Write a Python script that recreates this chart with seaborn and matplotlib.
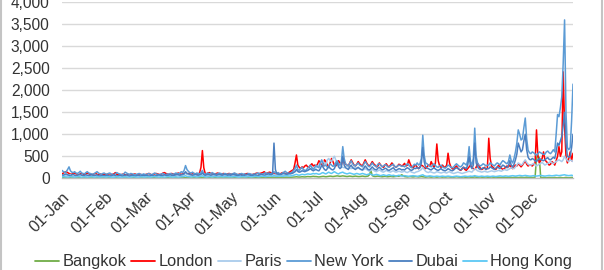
import matplotlib
matplotlib.use("Agg")
import matplotlib.pyplot as plt
import matplotlib.dates as mdates
from matplotlib.ticker import FuncFormatter, MultipleLocator
from matplotlib.lines import Line2D
import pandas as pd
import seaborn as sns

# ---------------- data (daily values) ----------------
cities = ["Bangkok", "London", "Paris", "New York", "Dubai", "Hong Kong"]
start_date = "2015-01-01"

bangkok = [
    10,12,8,10,15,12,10,8,10,12,10,8,10,12,15,10,8,10,12,10,8,10,12,10,8,10,12,10,8,10,12,
    10,8,10,12,10,8,10,12,10,8,10,12,15,10,8,10,12,10,8,10,12,10,8,10,12,10,8,10,
    12,10,8,10,12,15,12,10,8,10,12,10,8,10,12,15,12,10,8,10,12,10,8,10,12,15,12,10,12,15,12,
    12,10,8,10,12,10,8,10,12,15,20,12,10,8,10,12,10,8,10,12,15,12,10,8,10,12,10,8,10,12,
    10,12,15,12,10,8,10,12,10,8,10,12,15,12,10,12,15,18,15,12,15,18,20,18,15,18,20,22,20,18,20,
    25,20,18,20,22,20,18,20,22,25,22,20,22,25,28,30,35,30,28,30,35,32,30,35,40,38,35,40,45,40,
    40,35,30,35,40,45,40,35,40,45,50,45,40,45,50,55,50,45,50,55,50,45,40,45,50,45,40,45,50,45,40,
    40,45,50,45,40,45,50,80,180,60,45,40,45,50,45,40,35,40,45,40,35,40,45,40,35,40,45,50,45,60,80,
    60,40,35,30,35,40,35,30,35,40,35,30,35,40,35,30,25,30,35,30,25,30,35,30,25,30,35,30,25,30,
    25,30,35,30,25,20,25,30,35,30,25,20,25,30,25,20,25,30,25,20,25,30,25,20,25,30,25,20,25,30,25,
    20,25,30,25,20,15,20,25,20,15,20,25,20,15,20,25,20,15,20,25,20,15,20,25,20,15,20,25,20,15,
    20,15,20,25,480,510,470,20,15,20,15,10,15,20,15,10,15,20,15,10,15,20,15,10,15,20,15,10,15,20,15,
]

london = [
    100,120,140,150,130,110,100,90,110,120,100,90,80,100,110,90,80,100,120,100,90,80,90,100,110,90,80,100,90,80,90,
    80,90,100,80,70,90,100,130,90,80,70,80,90,100,80,70,90,80,70,80,90,100,80,70,80,90,80,70,
    80,90,100,110,90,80,90,100,110,100,90,80,100,120,130,110,100,90,100,110,100,90,100,110,120,100,90,100,110,120,100,
    110,100,90,100,110,100,90,100,120,250,630,240,110,100,120,130,110,100,90,100,110,120,100,90,100,110,100,90,100,110,
    100,90,100,110,90,80,90,100,90,80,90,100,110,100,90,80,90,100,110,120,100,110,120,130,150,120,110,130,140,120,110,
    120,100,110,120,100,110,130,120,110,100,120,140,160,180,200,350,530,300,250,220,260,240,280,300,260,250,300,330,280,300,
    280,320,400,350,300,280,420,380,300,260,350,450,380,300,280,320,400,350,300,450,380,320,300,280,350,420,360,300,280,320,380,
    330,300,280,350,420,350,300,280,320,380,330,300,260,280,350,300,270,250,300,330,280,260,300,350,300,270,250,280,320,300,280,
    300,340,280,300,420,330,260,240,280,300,250,220,260,300,280,240,220,260,300,280,380,300,250,350,780,400,280,250,300,260,
    250,300,570,350,260,220,200,250,280,230,200,180,220,250,200,180,220,260,300,250,220,200,250,340,280,230,200,220,250,200,230,
    910,450,280,250,220,200,250,300,260,230,200,220,250,280,260,300,250,220,260,300,280,330,300,260,300,350,400,320,280,300,
    300,280,320,350,1100,500,350,400,450,600,420,380,350,300,320,380,350,300,400,500,720,500,600,2420,1200,500,350,450,600,400,570,
]

paris = [
    60,70,80,60,50,70,90,60,50,40,60,70,50,60,80,60,50,40,60,70,50,40,50,60,70,50,40,60,50,40,50,
    50,40,60,70,50,40,50,60,50,40,50,60,70,50,40,50,60,50,40,50,60,50,40,50,60,70,50,40,
    50,60,50,40,50,60,70,50,40,50,60,50,40,50,60,70,60,50,40,50,60,50,60,70,60,50,60,70,80,120,90,
    80,70,60,70,60,50,60,70,60,80,150,90,60,50,60,70,60,50,60,70,60,50,60,70,60,50,60,70,60,50,
    60,50,60,70,60,50,40,50,60,50,40,50,60,70,60,50,60,70,60,50,60,70,80,70,60,70,80,70,60,70,80,
    90,70,60,70,80,70,60,70,80,90,80,90,100,120,140,160,180,150,140,160,180,200,180,160,180,200,220,240,200,220,
    240,260,300,350,400,380,350,300,420,450,400,380,450,500,420,350,300,280,260,250,240,260,280,250,230,220,240,260,240,220,230,
    220,200,180,200,220,200,180,160,180,200,180,160,150,170,190,170,150,140,160,180,160,150,140,160,170,150,140,150,160,150,140,
    150,160,140,130,150,160,140,130,120,140,150,160,180,200,250,200,160,140,130,150,140,130,120,130,150,140,130,120,130,140,
    130,120,140,150,130,120,110,120,130,140,130,120,110,120,130,140,150,160,150,140,180,220,200,170,160,150,140,150,160,150,140,
    150,160,170,160,150,160,170,180,170,160,180,200,190,180,200,220,240,230,220,260,300,350,330,300,320,380,420,360,320,300,
    300,320,340,300,280,300,320,340,360,330,300,320,340,360,380,350,330,360,380,400,420,400,380,420,500,450,400,380,420,400,380,
]

new_york = [
    180,150,130,150,200,260,170,140,130,150,120,110,130,160,120,110,100,130,150,120,110,100,90,110,130,150,120,100,90,110,120,
    100,90,110,120,100,90,80,100,130,110,100,90,80,100,140,120,100,90,110,100,90,80,90,100,110,90,80,100,
    90,80,100,110,90,80,100,120,100,90,80,90,100,110,90,80,100,90,110,100,90,100,120,110,100,120,150,130,180,290,200,
    160,130,120,140,110,100,120,110,100,130,180,100,90,110,120,100,110,130,110,100,90,100,120,110,100,90,110,100,90,100,
    100,90,110,120,100,90,80,100,110,90,100,80,90,110,100,90,80,100,90,110,120,100,90,100,110,130,100,120,110,100,130,
    150,120,110,130,100,90,120,140,160,130,120,110,100,140,180,220,300,200,180,220,250,200,170,190,230,260,300,240,210,250,
    300,260,240,350,420,320,280,300,250,280,330,300,270,290,360,400,330,300,380,720,450,330,300,280,350,400,330,300,280,320,350,
    300,280,260,320,380,330,280,260,300,350,300,280,260,320,330,300,260,280,310,300,260,250,280,300,320,270,250,280,300,290,270,
    280,260,300,330,300,260,240,280,320,300,350,300,330,450,980,520,350,330,300,280,260,300,330,290,260,250,280,300,260,240,
    230,260,300,280,250,240,260,300,330,300,270,260,290,350,330,300,400,720,380,300,450,1140,500,350,300,280,300,330,310,280,300,
    300,350,330,300,280,320,350,330,300,360,400,380,350,330,380,530,400,350,450,600,800,1100,1000,870,900,1150,1370,900,640,580,
    560,600,580,550,520,560,600,580,560,540,550,600,620,580,560,600,650,600,1000,1450,1400,1600,1850,2600,3600,1500,700,650,700,1300,2140,
]

dubai = [
    80,70,90,100,80,70,60,80,90,70,60,70,80,90,70,60,70,80,70,60,70,80,70,60,70,80,60,50,60,70,60,
    60,70,60,50,60,70,80,60,50,60,70,60,50,60,70,80,60,50,60,70,60,50,60,70,60,50,60,70,
    60,70,60,50,60,70,60,50,60,70,80,70,60,70,80,70,60,70,80,70,60,70,80,90,80,70,80,90,100,150,110,
    100,90,80,70,80,90,80,70,80,90,120,80,70,80,90,80,70,80,90,80,70,80,90,80,70,80,90,80,70,80,
    70,80,90,80,70,60,70,80,70,60,70,80,90,80,70,60,70,80,70,60,70,80,90,80,70,80,90,100,90,80,100,
    800,200,100,90,80,90,100,110,100,90,100,110,120,110,130,150,200,160,140,150,170,160,150,170,180,200,220,190,170,190,
    200,180,170,220,300,250,200,180,220,260,230,200,190,220,300,350,260,220,250,500,300,240,220,200,260,300,240,220,200,230,250,
    220,200,190,230,280,240,200,190,220,260,220,200,190,230,250,220,190,200,230,220,190,180,200,220,240,200,180,200,220,210,190,
    200,190,220,240,220,190,180,200,230,220,250,220,240,350,700,380,250,230,220,200,190,220,240,210,190,180,200,220,190,180,
    170,190,220,200,180,170,190,220,240,220,200,190,210,250,240,220,300,500,280,220,300,800,350,260,220,200,220,240,230,200,220,
    220,260,240,220,200,230,260,240,220,260,300,280,260,240,280,400,300,260,320,420,550,800,700,600,650,850,1000,650,480,430,
    420,450,430,400,380,420,450,430,410,400,420,450,470,430,420,450,480,450,600,800,750,850,950,1200,1500,800,500,480,500,700,1000,
]

hong_kong = [
    30,40,35,30,25,30,40,35,30,25,30,35,40,30,25,30,35,30,25,30,35,40,30,25,30,35,30,25,30,35,30,
    25,30,35,30,25,20,25,30,35,30,25,20,25,30,35,30,25,20,25,30,35,30,25,20,25,30,35,30,
    25,30,35,30,25,30,35,40,35,30,25,30,35,30,25,30,35,40,35,30,25,30,35,30,25,30,35,40,45,60,40,
    40,35,30,35,40,35,30,35,40,45,60,40,35,30,35,40,35,30,35,40,35,30,35,40,35,30,35,40,35,30,
    35,30,35,40,35,30,25,30,35,40,35,30,35,40,35,30,35,40,45,40,35,40,45,50,45,40,45,50,55,50,45,
    60,50,45,50,55,50,45,50,55,60,55,50,55,60,70,80,90,75,70,80,90,85,80,90,100,95,90,100,110,100,
    110,100,90,100,120,130,110,100,120,140,120,110,130,150,130,110,100,120,130,140,120,110,100,110,120,110,100,90,100,110,100,
    90,100,110,100,90,80,90,100,90,80,70,80,90,80,70,60,70,80,70,60,70,80,70,60,70,60,50,60,70,60,50,
    50,60,55,50,45,50,55,60,55,50,45,50,60,70,80,60,50,45,50,55,50,45,40,45,50,45,40,45,50,45,
    40,45,50,45,40,35,40,45,50,45,40,35,40,45,50,45,40,45,50,45,50,60,50,45,40,45,50,45,40,45,50,
    45,40,45,50,45,40,45,50,55,50,45,50,55,50,45,50,55,60,55,50,55,60,65,60,55,60,65,60,55,50,
    50,55,60,55,50,55,60,65,60,55,50,55,60,65,60,55,60,65,70,65,60,65,70,75,80,70,65,60,65,70,60,
]

series = [bangkok, london, paris, new_york, dubai, hong_kong]
colors = ["#70AD47", "#FF0000", "#A9CBEC", "#5B9BD5", "#4A7FC0", "#5CC8F4"]

frames = []
for name, vals in zip(cities, series):
    d = pd.date_range(start_date, periods=len(vals), freq="D")
    frames.append(pd.DataFrame({"date": d, "visits": vals, "city": name}))
df = pd.concat(frames, ignore_index=True)

# ---------------- styling ----------------
sns.set_theme(style="white")
plt.rcParams["font.family"] = ["Liberation Sans", "DejaVu Sans"]
text_color = "#333333"

fig = plt.figure(figsize=(6.04, 2.70), dpi=100)
ax = fig.add_axes([62 / 604, 1 - 178.3 / 270, (573 - 62) / 604, (178.3 - 2.3) / 270])

sns.lineplot(data=df, x="date", y="visits", hue="city", hue_order=cities,
             palette=dict(zip(cities, colors)), linewidth=1.1, ax=ax,
             legend=False, estimator=None)

ax.set_ylim(0, 4000)
ax.yaxis.set_major_locator(MultipleLocator(500))
ax.yaxis.set_major_formatter(FuncFormatter(lambda v, p: f"{v:,.0f}"))
ax.set_xlim(pd.Timestamp("2015-01-01"), pd.Timestamp("2015-12-31"))
ax.xaxis.set_major_locator(mdates.MonthLocator())
ax.xaxis.set_major_formatter(mdates.DateFormatter("%d-%b"))

ax.grid(axis="y", color="#D9D9D9", linewidth=1.0)
ax.grid(axis="x", visible=False)
ax.set_axisbelow(True)
for s in ["top", "right", "left"]:
    ax.spines[s].set_visible(False)
ax.spines["bottom"].set_color("#BFBFBF")
ax.spines["bottom"].set_linewidth(1.0)

ax.tick_params(axis="y", length=0, pad=9, labelsize=11.2, labelcolor=text_color)
ax.tick_params(axis="x", length=4, width=1, color="#BFBFBF", direction="out",
               pad=4, labelsize=11.6, labelcolor=text_color)
for lbl in ax.get_xticklabels():
    lbl.set_rotation(45)
    lbl.set_ha("right")
    lbl.set_va("top")
    lbl.set_rotation_mode("anchor")
ax.set_xlabel("")
ax.set_ylabel("")

handles = [Line2D([0], [0], color=c, lw=1.3) for c in colors]
leg = fig.legend(handles, cities, loc="center", bbox_to_anchor=(0.503, 0.03),
                 ncol=6, frameon=False, fontsize=11.8, handlelength=1.45,
                 handletextpad=0.2, columnspacing=0.3, borderaxespad=0,
                 borderpad=0)
for t in leg.get_texts():
    t.set_color(text_color)

# light frame lines at left and right edge of the picture
fig.add_artist(Line2D([0.0015, 0.0015], [0, 1], transform=fig.transFigure, color="#C4C4C4", lw=1.5))
fig.add_artist(Line2D([0.9975, 0.9975], [0, 1], transform=fig.transFigure, color="#C4C4C4", lw=1.5))

fig.savefig("out.png", dpi=100)
